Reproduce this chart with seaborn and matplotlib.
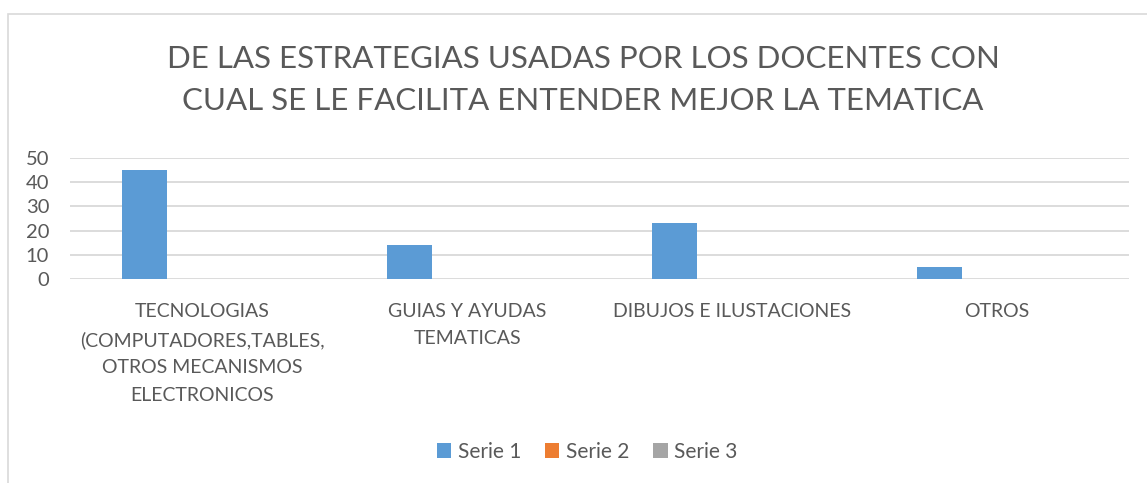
import matplotlib
matplotlib.use("Agg")
import matplotlib.pyplot as plt
import seaborn as sns
import pandas as pd
from matplotlib.patches import Patch, Rectangle

categories = [
    "TECNOLOGIAS\n(COMPUTADORES,TABLES,\nOTROS MECANISMOS\nELECTRONICOS",
    "GUIAS Y AYUDAS\nTEMATICAS",
    "DIBUJOS E ILUSTACIONES",
    "OTROS",
]
series_names = ["Serie 1", "Serie 2", "Serie 3"]
serie1 = [45, 14, 23, 5]
serie2 = [0, 0, 0, 0]
serie3 = [0, 0, 0, 0]
yticks = [0, 10, 20, 30, 40, 50]
title = "DE LAS ESTRATEGIAS USADAS POR LOS DOCENTES CON\nCUAL SE LE FACILITA ENTENDER MEJOR LA TEMATICA"

colors = ["#5B9BD5", "#ED7D31", "#A5A5A5"]
text_color = "#595959"
grid_color = "#D9D9D9"

rows = []
for name, vals in zip(series_names, [serie1, serie2, serie3]):
    for c, v in zip(categories, vals):
        rows.append({"cat": c, "serie": name, "value": v})
df = pd.DataFrame(rows)

sns.set_theme(style="white")
plt.rcParams["font.family"] = ["Lato", "DejaVu Sans"]

fig = plt.figure(figsize=(11.47, 4.83), dpi=100)
ax = fig.add_axes([70 / 1147, 1 - 279 / 483, (1129 - 70) / 1147, (279 - 158) / 483])

sns.barplot(data=df, x="cat", y="value", hue="serie", hue_order=series_names,
            order=categories, palette=colors, saturation=1, width=0.651, gap=0.217,
            edgecolor="none", legend=False, ax=ax, zorder=3)

ax.set_ylim(0, 50)
ax.set_xlim(-0.5, len(categories) - 0.5)
ax.set_yticks(yticks)
ax.set_yticklabels([str(t) for t in yticks])
ax.set_xlabel("")
ax.set_ylabel("")
for s in ax.spines.values():
    s.set_visible(False)
ax.grid(axis="y", color=grid_color, linewidth=1.3, zorder=0)
ax.set_axisbelow(True)
ax.tick_params(axis="y", length=0, pad=15, labelsize=14.5, labelcolor=text_color)
ax.tick_params(axis="x", length=0, pad=17, labelsize=14, labelcolor=text_color)
for lab in ax.get_xticklabels():
    lab.set_linespacing(1.76)
    lab.set_verticalalignment("top")

fig.text(583 / 1147, 1 - 80 / 483, title, ha="center", va="center",
         fontsize=22.5, color=text_color, linespacing=1.62)

handles = [Patch(facecolor=c, edgecolor="none") for c in colors]
fig.legend(handles, series_names, loc="center", bbox_to_anchor=(587 / 1147, 1 - 452 / 483),
           ncol=3, frameon=False, fontsize=15, labelcolor=text_color,
           handlelength=0.7, handleheight=0.7, handletextpad=0.3, columnspacing=1.15)

fig.patches.append(Rectangle((8 / 1147, -0.1), 1.2, 1 - 14 / 483 + 0.1,
                             transform=fig.transFigure, fill=False,
                             edgecolor=grid_color, linewidth=1.2))

fig.savefig("out.png", dpi=100)
